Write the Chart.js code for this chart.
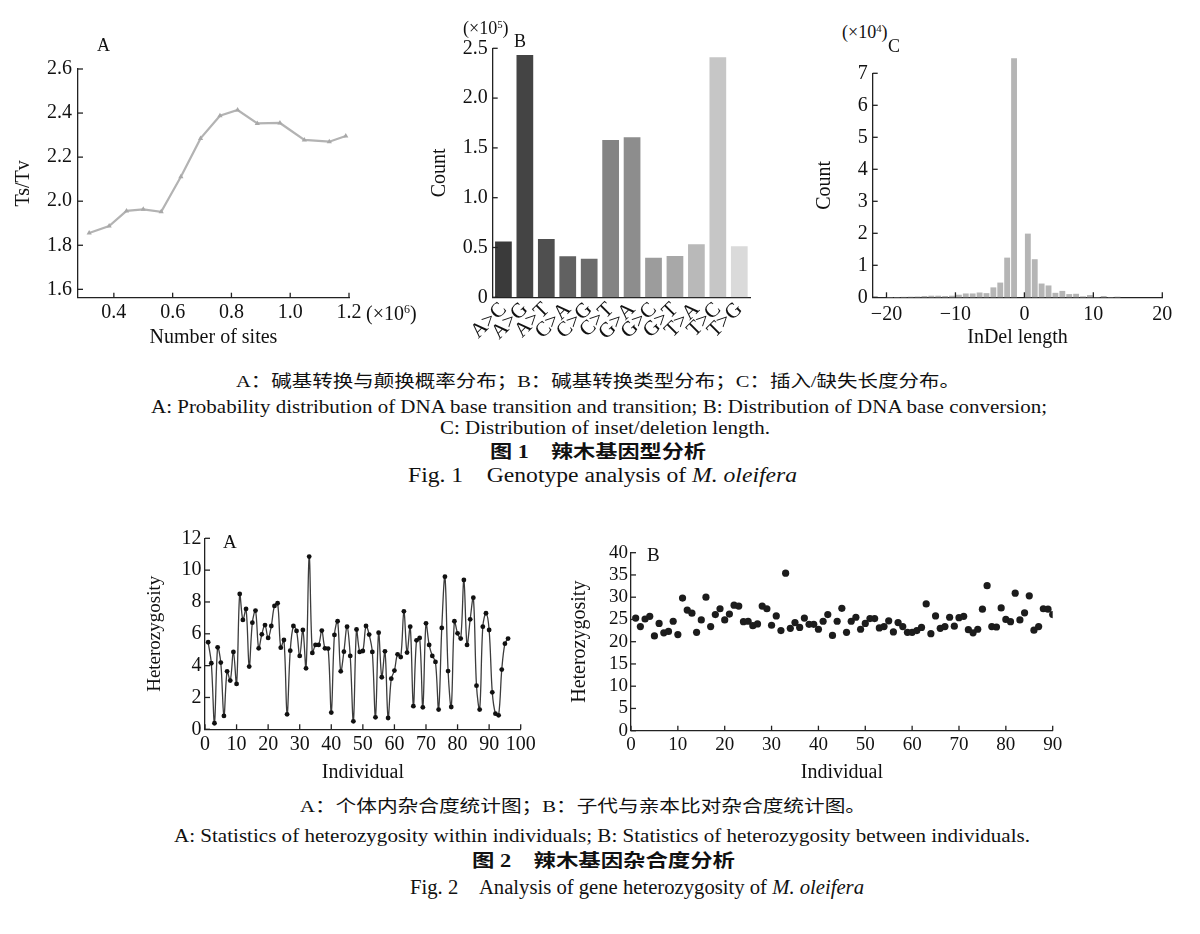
<!DOCTYPE html>
<html><head><meta charset="utf-8">
<script src="https://cdn.jsdelivr.net/npm/chart.js@4.4.1/dist/chart.umd.min.js"></script>
<style>
html,body{margin:0;padding:0;background:#fff;}
body{width:1200px;height:934px;position:relative;overflow:hidden;font-family:'Liberation Serif','Noto Sans CJK SC',serif;color:#111;}
canvas{position:absolute;}
.t{position:absolute;line-height:1;white-space:nowrap;}
.cap{position:absolute;line-height:1;white-space:nowrap;transform-origin:0 50%;}
.sp{font-size:0.6em;position:relative;top:-0.6em;}
</style></head><body>
<canvas id="c1a"></canvas>
<canvas id="c1b"></canvas>
<canvas id="c1c"></canvas>
<canvas id="c2a"></canvas>
<canvas id="c2b"></canvas>

<div class="t" style="left:97px;top:36px;font-size:18px;">A</div>
<div class="t" style="left:366px;top:303px;font-size:20px;">(×10<span class="sp">6</span>)</div>
<div class="t" style="left:463px;top:19px;font-size:18px;">(×10<span class="sp">5</span>)</div>
<div class="t" style="left:514px;top:32px;font-size:18px;">B</div>
<div class="t" style="left:842px;top:23px;font-size:18px;">(×10<span class="sp">4</span>)</div>
<div class="t" style="left:888px;top:37px;font-size:18px;">C</div>
<div class="t" style="left:223px;top:532px;font-size:19px;">A</div>
<div class="t" style="left:647px;top:545px;font-size:19px;">B</div>

<script>
// ---------- data ----------
const sitesX = [0.316, 0.384, 0.443, 0.500, 0.561, 0.628, 0.695, 0.761, 0.821, 0.888, 0.965, 1.048, 1.133, 1.189];
const tsTv   = [1.856, 1.887, 1.956, 1.963, 1.952, 2.111, 2.285, 2.388, 2.414, 2.353, 2.355, 2.278, 2.270, 2.296];
const tsTvTicksY = [1.6, 1.8, 2.0, 2.2, 2.4, 2.6];
const sitesTicksX = [0.4, 0.6, 0.8, 1.0, 1.2];

const baseTypes  = ['A>C','A>G','A>T','C>A','C>G','C>T','G>A','G>C','G>T','T>A','T>C','T>G'];
const baseCounts = [0.559, 2.433, 0.586, 0.412, 0.388, 1.580, 1.606, 0.398, 0.415, 0.532, 2.410, 0.512];
const baseColors = ['#3a3a3a','#444444','#4f4f4f','#616161','#6b6b6b','#848484','#8d8d8d','#9c9c9c','#a8a8a8','#b9b9b9','#c6c6c6','#dadada'];

const indelLen   = [-19.5,-18.5,-17.5,-16.5,-15.5,-14.5,-13.5,-12.5,-11.5,-10.5,-9.5,-8.5,-7.5,-6.5,-5.5,-4.5,-3.5,-2.5,-1.5,
                    0.5,1.5,2.5,3.5,4.5,5.5,6.5,7.5,8.5,9.5,10.5,11.5,12.5,13.5];
const indelCount = [0.01,0.01,0.015,0.02,0.025,0.04,0.05,0.05,0.04,0.05,0.08,0.12,0.12,0.15,0.13,0.31,0.46,1.24,7.47,
                    1.99,1.19,0.43,0.37,0.14,0.20,0.10,0.11,0.03,0.07,0.01,0.04,0.01,0.02];
const indelTicksX = [-20, -10, 0, 10, 20];

const hetWithin = [5.47,4.15,0.38,5.15,4.19,0.84,3.64,3.06,4.86,2.85,
                   8.50,6.87,7.56,3.94,6.70,7.46,5.09,5.97,6.55,5.74,
                   6.49,7.75,7.92,5.13,5.61,0.94,4.94,6.49,6.18,4.61,
                   6.24,3.83,10.85,4.80,5.30,5.30,6.20,5.09,5.07,1.05,
                   5.93,6.79,3.64,4.88,6.45,4.61,0.50,6.27,4.86,4.92,
                   6.49,5.95,4.86,0.75,6.07,3.27,4.90,0.71,3.18,3.69,
                   4.71,4.54,7.41,4.82,6.45,1.45,5.59,5.74,1.38,6.66,
                   5.30,4.61,4.23,1.24,6.37,9.59,3.66,1.40,6.79,6.03,
                   5.70,9.38,5.30,6.91,8.27,2.74,1.24,6.45,7.29,6.24,
                   2.32,0.98,0.88,3.75,5.38,5.70];
const hetBetween = [25.3,23.4,25.1,25.7,21.3,24.1,22.0,22.3,24.6,21.6,
                    29.8,27.1,26.4,22.1,24.9,30.0,23.4,26.1,27.4,24.9,
                    26.2,28.2,28.0,24.5,24.6,23.6,24.0,28.0,27.4,23.7,
                    25.8,22.5,35.4,23.0,24.3,23.2,25.3,23.9,23.9,22.8,
                    24.6,26.1,21.4,24.6,27.5,22.1,24.6,25.5,22.8,24.1,
                    25.2,25.2,23.1,23.4,24.7,22.2,24.3,23.4,22.1,22.1,
                    22.5,23.2,28.5,21.8,25.8,23.0,23.4,25.5,23.5,25.4,
                    25.7,22.7,22.0,22.8,27.3,32.6,23.4,23.3,27.6,25.0,
                    24.5,30.9,24.9,26.5,30.3,22.6,23.4,27.4,27.3,26.1];

// ---------- setup ----------
const SERIF = "'Liberation Serif', 'Times New Roman', serif";
Chart.defaults.font.family = SERIF;
Chart.defaults.color = '#111';
Chart.defaults.animation = false;
Chart.defaults.plugins.legend.display = false;
Chart.defaults.plugins.tooltip.enabled = false;

function F(size) { return {size, family: SERIF, weight: 'normal', style: 'normal'}; }

const inTicks = {
  id: 'inTicks',
  afterDraw(chart) {
    const ctx = chart.ctx;
    ctx.save();
    ctx.strokeStyle = '#222';
    ctx.lineWidth = 1.3;
    Object.values(chart.scales).forEach(s => {
      const len = s.options.inTick;
      if (!len) return;
      s.ticks.forEach((t, i) => {
        const p = s.getPixelForTick(i);
        ctx.beginPath();
        if (s.isHorizontal()) { ctx.moveTo(p, s.top); ctx.lineTo(p, s.top - len); }
        else { ctx.moveTo(s.right, p); ctx.lineTo(s.right + len, p); }
        ctx.stroke();
      });
    });
    ctx.restore();
  }
};

function ax(extra) {
  return Object.assign({
    grid: {display: false, drawTicks: false},
    border: {display: true, color: '#222', width: 1.3}
  }, extra);
}
function ttl(text, size) {
  return {display: true, text, font: F(size), color: '#111', padding: 0};
}
function tk(size, pad, extra) {
  return Object.assign({font: F(size), color: '#111', padding: pad, autoSkip: false, maxRotation: 0}, extra || {});
}

function place(id, g, cfg) {
  const yl = (g.yts || 20) * 1.2, xl = (g.xts || 20) * 1.2;
  const yW = g.x0 - (g.yTitleCX - yl / 2);
  const xH = g.xH != null ? g.xH : (g.xTitleCY + xl / 2) - g.y1;
  const L = Math.floor(g.x0 - yW) - 14;
  const T = Math.floor(g.y0) - 24;
  const R = Math.ceil(g.x1) + 30;
  const B = Math.ceil(g.y1 + xH) + 8;
  const cv = document.getElementById(id);
  cv.style.left = L + 'px'; cv.style.top = T + 'px';
  cv.style.width = (R - L) + 'px'; cv.style.height = (B - T) + 'px';
  cv.width = R - L; cv.height = B - T;
  cfg.options.responsive = false;
  cfg.options.maintainAspectRatio = false;
  cfg.options.layout = {padding: {left: g.x0 - yW - L, top: g.y0 - T, right: R - g.x1, bottom: B - g.y1 - xH}};
  const sx = cfg.options.scales.x, sy = cfg.options.scales.y;
  sx.afterFit = s => { s.height = xH; s.paddingLeft = 0; s.paddingRight = 0; s.paddingTop = 0; s.paddingBottom = 0; };
  sy.afterFit = s => { s.width = yW; s.paddingLeft = 0; s.paddingRight = 0; s.paddingTop = 0; s.paddingBottom = 0; };
  cfg.plugins = [inTicks];
  return new Chart(cv, cfg);
}

// ---------- Fig 1A ----------
place('c1a', {x0: 78, x1: 349, y0: 69, y1: 297.7, yTitleCX: 24, xTitleCY: 338}, {
  type: 'line',
  data: {datasets: [{
    data: sitesX.map((x, i) => ({x, y: tsTv[i]})),
    borderColor: '#b3b3b3', borderWidth: 2.2, tension: 0,
    pointStyle: 'triangle', pointRadius: 3, pointBackgroundColor: '#a8a8a8', pointBorderColor: '#a8a8a8', pointBorderWidth: 0
  }]},
  options: {scales: {
    x: ax({type: 'linear', min: 0.278, max: 1.2, inTick: 5,
      afterBuildTicks: s => { s.ticks = sitesTicksX.map(v => ({value: v})); },
      ticks: tk(20, 3.3, {callback: v => v.toFixed(1)}),
      title: ttl('Number of sites', 20)}),
    y: ax({type: 'linear', min: 1.562, max: 2.6, inTick: 5,
      afterBuildTicks: s => { s.ticks = tsTvTicksY.map(v => ({value: v})); },
      ticks: tk(20, 6, {callback: v => v.toFixed(1)}),
      title: ttl('Ts/Tv', 20)})
  }}
});

// ---------- Fig 1B ----------
place('c1b', {x0: 492.7, x1: 750, y0: 48.3, y1: 297.3, yTitleCX: 440, xH: 60}, {
  type: 'bar',
  data: {labels: baseTypes, datasets: [{
    data: baseCounts, backgroundColor: baseColors, barPercentage: 0.78, categoryPercentage: 1
  }]},
  options: {scales: {
    x: ax({type: 'category', inTick: 0,
      ticks: tk(21, 0, {minRotation: 45, maxRotation: 45})}),
    y: ax({type: 'linear', min: 0, max: 2.5, inTick: 5,
      ticks: tk(20, 5, {stepSize: 0.5, callback: v => v === 0 ? '0' : v.toFixed(1)}),
      title: ttl('Count', 20)})
  }}
});

// ---------- Fig 1C ----------
place('c1c', {x0: 872.7, x1: 1162.3, y0: 73.3, y1: 297.3, yTitleCX: 825, xTitleCY: 338}, {
  type: 'bar',
  data: {datasets: [{
    data: indelLen.map((x, i) => ({x, y: indelCount[i]})),
    backgroundColor: '#b5b5b5', barPercentage: 0.85, categoryPercentage: 1, clip: false
  }]},
  options: {scales: {
    x: ax({type: 'linear', min: -22, max: 20, offset: false, inTick: 5,
      afterBuildTicks: s => { s.ticks = indelTicksX.map(v => ({value: v})); },
      ticks: tk(20, 5.7, {callback: v => v < 0 ? '\u2212' + (-v) : String(v)}),
      title: ttl('InDel length', 20)}),
    y: ax({type: 'linear', min: 0, max: 7, inTick: 5,
      ticks: tk(20, 5, {stepSize: 1}),
      title: ttl('Count', 20)})
  }}
});

// ---------- Fig 2A ----------
place('c2a', {x0: 205, x1: 520.7, y0: 538.3, y1: 729.3, yTitleCX: 155, xTitleCY: 773, yts: 19}, {
  type: 'line',
  data: {datasets: [{
    data: hetWithin.map((y, i) => ({x: i + 1, y})),
    borderColor: '#3c3c3c', borderWidth: 1.3, tension: 0.35,
    pointRadius: 2.4, pointBackgroundColor: '#111', pointBorderWidth: 0
  }]},
  options: {scales: {
    x: ax({type: 'linear', min: 0, max: 100, inTick: 5,
      ticks: tk(20, 3.7, {stepSize: 10}),
      title: ttl('Individual', 20)}),
    y: ax({type: 'linear', min: 0, max: 12, inTick: 5,
      ticks: tk(20, 3.5, {stepSize: 2}),
      title: ttl('Heterozygosity', 19)})
  }}
});

// ---------- Fig 2B ----------
place('c2b', {x0: 631, x1: 1052.7, y0: 552.7, y1: 730.7, yTitleCX: 580, xTitleCY: 773}, {
  type: 'scatter',
  data: {datasets: [{
    data: hetBetween.map((y, i) => ({x: i + 1, y})),
    pointRadius: 3.6, pointBackgroundColor: '#1c1c1c', pointBorderWidth: 0
  }]},
  options: {scales: {
    x: ax({type: 'linear', min: 0, max: 90, inTick: 5,
      ticks: tk(19, 2.9, {stepSize: 10}),
      title: ttl('Individual', 20)}),
    y: ax({type: 'linear', min: 0, max: 40, inTick: 5,
      ticks: tk(19, 3, {stepSize: 5}),
      title: ttl('Heterozygosity', 20)})
  }}
});

// ---------- captions ----------
const caps = [
  {html: 'A：碱基转换与颠换概率分布；B：碱基转换类型分布；C：插入/缺失长度分布。', cy: 381, x0: 236, x1: 960, size: 17},
  {html: 'A: Probability distribution of DNA base transition and transition; B: Distribution of DNA base conversion;', cy: 407, x0: 151, x1: 1047, size: 19.5},
  {html: 'C: Distribution of inset/deletion length.', cy: 428, x0: 440, x1: 770, size: 19.5},
  {html: '图 1　辣木基因型分析', cy: 452, x0: 490, x1: 706, size: 18, bold: true},
  {html: 'Fig. 1　Genotype analysis of <i>M. oleifera</i>', cy: 475, x0: 408, x1: 797, size: 20},
  {html: 'A：个体内杂合度统计图；B：子代与亲本比对杂合度统计图。', cy: 806, x0: 300, x1: 866, size: 17},
  {html: 'A: Statistics of heterozygosity within individuals; B: Statistics of heterozygosity between individuals.', cy: 836, x0: 174, x1: 1030, size: 19.5},
  {html: '图 2　辣木基因杂合度分析', cy: 861, x0: 472, x1: 735, size: 18, bold: true},
  {html: 'Fig. 2　Analysis of gene heterozygosity of <i>M. oleifera</i>', cy: 887, x0: 410, x1: 864, size: 20}
];
const capEls = caps.map(c => {
  const d = document.createElement('div');
  d.className = 'cap';
  d.innerHTML = c.html;
  d.style.fontSize = c.size + 'px';
  if (c.bold) d.style.fontWeight = 'bold';
  d.style.left = c.x0 + 'px';
  d.style.top = (c.cy - c.size / 2) + 'px';
  document.body.appendChild(d);
  return d;
});
function fitCaps() {
  capEls.forEach((d, i) => {
    const c = caps[i];
    d.style.transform = 'none';
    const w = d.getBoundingClientRect().width;
    d.style.transform = 'scaleX(' + ((c.x1 - c.x0) / w) + ')';
  });
}
fitCaps();
if (document.fonts && document.fonts.ready) document.fonts.ready.then(fitCaps);
</script>
</body></html>
